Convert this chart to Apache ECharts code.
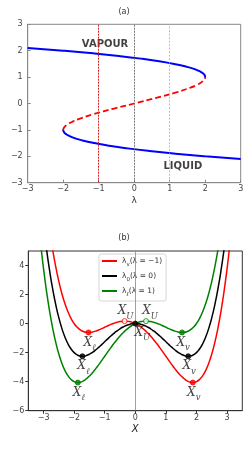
<!DOCTYPE html>
<html><head><meta charset="utf-8">
<script src="https://cdn.jsdelivr.net/npm/echarts@6/dist/echarts.min.js"></script>
<style>html,body{margin:0;padding:0;background:#fff}#c{width:248px;height:449px}</style>
</head><body><div id="c"></div>
<script>
// ---------- Panel (a): fixed points X* vs lambda ----------
const upperX   = [1.0, 1.02, 1.05, 1.1, 1.15, 1.2, 1.3, 1.4, 1.5, 1.6, 1.7, 1.8, 1.9, 2.0, 2.104];
const upperLam = [2.0, 1.999, 1.992, 1.969, 1.929, 1.872, 1.703, 1.456, 1.125, 0.704, 0.187, -0.432, -1.159, -2.0, -3.0];
const lowerX   = [-1.0, -1.02, -1.05, -1.1, -1.15, -1.2, -1.3, -1.4, -1.5, -1.6, -1.7, -1.8, -1.9, -2.0, -2.104];
const lowerLam = [-2.0, -1.999, -1.992, -1.969, -1.929, -1.872, -1.703, -1.456, -1.125, -0.704, -0.187, 0.432, 1.159, 2.0, 3.0];
const midX     = [-1.0, -0.95, -0.9, -0.8, -0.7, -0.6, -0.4, -0.2, 0, 0.2, 0.4, 0.6, 0.7, 0.8, 0.9, 0.95, 1.0];
const midLam   = [-2.0, -1.993, -1.971, -1.888, -1.757, -1.584, -1.136, -0.592, 0, 0.592, 1.136, 1.584, 1.757, 1.888, 1.971, 1.993, 2.0];
const refLams  = [-1, 0, 1];
const phaseLabels = ['VAPOUR', 'LIQUID'];
const phaseLabelPos = [[-0.82, 2.25], [1.37, -2.39]];

// ---------- Panel (b): potentials V(X) ----------
const gridX = [-3.2,-3.1,-3.0,-2.9,-2.8,-2.7,-2.6,-2.5,-2.4,-2.3,-2.2,-2.1,-2.0,-1.9,-1.8,-1.7,-1.6,-1.5,-1.4,-1.3,-1.2,-1.1,-1.0,-0.9,-0.8,-0.7,-0.6,-0.5,-0.4,-0.3,-0.2,-0.1,0,0.1,0.2,0.3,0.4,0.5,0.6,0.7,0.8,0.9,1.0,1.1,1.2,1.3,1.4,1.5,1.6,1.7,1.8,1.9,2.0,2.1,2.2,2.3,2.4,2.5,2.6,2.7,2.8,2.9,3.0,3.1,3.2];
const vRed = [14.054,11.773,9.75,7.967,6.406,5.051,3.884,2.891,2.054,1.361,0.796,0.347,0,-0.257,-0.436,-0.547,-0.602,-0.609,-0.580,-0.521,-0.442,-0.349,-0.25,-0.151,-0.058,0.025,0.092,0.141,0.166,0.167,0.140,0.085,0,-0.115,-0.260,-0.433,-0.634,-0.859,-1.108,-1.375,-1.658,-1.951,-2.25,-2.549,-2.842,-3.121,-3.380,-3.609,-3.802,-3.947,-4.036,-4.057,-4,-3.853,-3.604,-3.239,-2.746,-2.109,-1.316,-0.349,0.806,2.167,3.75,5.573,7.654];
const vBlack = [10.854,8.673,6.75,5.067,3.606,2.351,1.284,0.391,-0.346,-0.939,-1.404,-1.753,-2.0,-2.157,-2.236,-2.247,-2.202,-2.109,-1.980,-1.821,-1.642,-1.449,-1.25,-1.051,-0.858,-0.675,-0.508,-0.359,-0.234,-0.133,-0.060,-0.015,0,-0.015,-0.060,-0.133,-0.234,-0.359,-0.508,-0.675,-0.858,-1.051,-1.25,-1.449,-1.642,-1.821,-1.980,-2.109,-2.202,-2.247,-2.236,-2.157,-2.0,-1.753,-1.404,-0.939,-0.346,0.391,1.284,2.351,3.606,5.067,6.75,8.673,10.854];
const vGreen = [7.654,5.573,3.75,2.167,0.806,-0.349,-1.316,-2.109,-2.746,-3.239,-3.604,-3.853,-4,-4.057,-4.036,-3.947,-3.802,-3.609,-3.380,-3.121,-2.842,-2.549,-2.25,-1.951,-1.658,-1.375,-1.108,-0.859,-0.634,-0.433,-0.260,-0.115,0,0.085,0.140,0.167,0.166,0.141,0.092,0.025,-0.058,-0.151,-0.25,-0.349,-0.442,-0.521,-0.580,-0.609,-0.602,-0.547,-0.436,-0.257,0,0.347,0.796,1.361,2.054,2.891,3.884,5.051,6.406,7.967,9.75,11.773,14.054];
const seriesNames = ['lv', 'l0', 'll'];
const legendText = {
  lv: '{a|λ}{s|v}{a|(λ = −1)}',
  l0: '{a|λ}{s|0}{a|(λ = 0)}',
  ll: '{a|λ}{s|ℓ}{a|(λ = 1)}'
};
// extrema [X, V, subscript, filled]
const redExt   = [[-1.53, -0.61, 'ℓ', true], [1.88, -4.06, 'v', true], [-0.35, 0.17, 'U', false]];
const blackExt = [[-1.73, -2.25, 'ℓ', true], [1.73, -2.25, 'v', true], [0, 0, 'U', true]];
const greenExt = [[-1.88, -4.06, 'ℓ', true], [1.53, -0.61, 'v', true], [0.35, 0.17, 'U', false]];

const zip = (a, b) => a.map((v, i) => [v, b[i]]);
const sans = 'DejaVu Sans';
const tickLbl = {fontFamily: sans, fontSize: 8, color: '#444'};

const labelRich = {
  m: {fontFamily: 'DejaVu Serif', fontStyle: 'italic', fontSize: 12, color: '#111'},
  s: {fontFamily: 'DejaVu Serif', fontStyle: 'italic', fontSize: 8.5, color: '#111', verticalAlign: 'bottom', padding: [0, 0, -4, 0]}
};
function extSeries(ext, color) {
  return {
    type: 'scatter', xAxisIndex: 1, yAxisIndex: 1, z: 5,
    data: ext.map(e => {
      let position = e[2] === 'U' ? 'top' : 'bottom';
      let offset = [1, 0];
      if (e[2] === 'U' && e[0] > 0.1) offset = [4, 0];
      if (e[2] === 'U' && e[0] === 0) { position = 'bottom'; offset = [7, -1]; }
      return {
        value: [e[0], e[1]],
        symbolSize: 5,
        itemStyle: {color: e[3] ? color : '#fff', borderColor: color, borderWidth: 1},
        label: {show: true, position, offset, distance: 1, formatter: '{m|X}{s|' + e[2] + '}', rich: labelRich}
      };
    })
  };
}

const option = {
  animation: false,
  backgroundColor: '#fff',
  title: [
    {text: '(a)', left: 'center', top: 3, textStyle: {fontFamily: sans, fontSize: 8, fontWeight: 'normal', color: '#333'}},
    {text: '(b)', left: 'center', top: 229, textStyle: {fontFamily: sans, fontSize: 8, fontWeight: 'normal', color: '#333'}}
  ],
  grid: [
    {left: 27.7, top: 24.3, width: 213, height: 158.4, outerBoundsMode: 'none', containLabel: false, show: true, borderColor: '#888', borderWidth: 1, backgroundColor: 'transparent'},
    {left: 28.3, top: 251, width: 214, height: 159.7, outerBoundsMode: 'none', containLabel: false, show: true, borderColor: '#333', borderWidth: 1, backgroundColor: 'transparent'}
  ],
  xAxis: [
    {type: 'value', gridIndex: 0, min: -3, max: 3, interval: 1,
     name: 'λ', nameLocation: 'middle', nameGap: 13, nameTextStyle: {fontFamily: sans, fontSize: 9, color: '#333'},
     axisLine: {show: true, onZero: false, lineStyle: {color: '#888'}}, axisTick: {show: true, inside: true, length: 3, lineStyle: {color: '#888'}},
     axisLabel: Object.assign({margin: 2, formatter: v => String(v).replace('-', '−')}, tickLbl), splitLine: {show: false}},
    {type: 'value', gridIndex: 1, min: -3.5, max: 3.5, splitNumber: 7,
     name: 'X', nameLocation: 'middle', nameGap: 14, nameTextStyle: {fontFamily: sans, fontStyle: 'italic', fontSize: 10, color: '#222'},
     axisLine: {show: true, onZero: false, lineStyle: {color: '#333'}}, axisTick: {show: true, inside: false, length: 3, lineStyle: {color: '#333'}},
     axisLabel: Object.assign({margin: 3, showMinLabel: false, showMaxLabel: false, formatter: v => Number.isInteger(v) ? String(v).replace('-', '−') : ''}, tickLbl), splitLine: {show: false}}
  ],
  yAxis: [
    {type: 'value', gridIndex: 0, min: -3, max: 3, interval: 1,
     name: 'X*', nameLocation: 'middle', nameGap: 15, nameRotate: 90, nameTextStyle: {fontFamily: sans, fontSize: 9, color: '#333'},
     axisLine: {show: true, onZero: false, lineStyle: {color: '#888'}}, axisTick: {show: true, inside: true, length: 3, lineStyle: {color: '#888'}},
     axisLabel: Object.assign({margin: 5, formatter: v => String(v).replace('-', '−')}, tickLbl), splitLine: {show: false}},
    {type: 'value', gridIndex: 1, min: -6, max: 5, interval: 2,
     name: 'V(X)', nameLocation: 'middle', nameGap: 18, nameRotate: 90, nameTextStyle: {fontFamily: sans, fontStyle: 'italic', fontSize: 9, color: '#222'},
     axisLine: {show: true, onZero: false, lineStyle: {color: '#333'}}, axisTick: {show: true, inside: false, length: 3, lineStyle: {color: '#333'}},
     axisLabel: Object.assign({margin: 4, showMaxLabel: false, formatter: v => v === 5 ? '' : String(v).replace('-', '−')}, tickLbl), splitLine: {show: false}}
  ],
  legend: {
    data: seriesNames, orient: 'vertical', left: 99, top: 254, padding: [3, 4, 3, 3],
    backgroundColor: '#fff', borderColor: '#ccc', borderWidth: 0.8, borderRadius: 2,
    itemWidth: 15, itemHeight: 2, itemGap: 4, icon: 'rect',
    formatter: n => legendText[n],
    textStyle: {rich: {a: {fontFamily: sans, fontSize: 7.5, color: '#333'}, s: {fontFamily: sans, fontSize: 5.5, color: '#333', verticalAlign: 'bottom', padding: [0, 0, -3, 0]}}}
  },
  series: [
    {type: 'line', xAxisIndex: 0, yAxisIndex: 0, data: zip(upperLam, upperX), smooth: true, symbol: 'none', lineStyle: {color: '#0000ff', width: 2}, z: 3,
     markLine: {silent: true, symbol: 'none', label: {show: false},
       data: [
         {xAxis: refLams[0], lineStyle: {color: '#d42020', width: 1, type: [2, 1]}},
         {xAxis: refLams[1], lineStyle: {color: '#777', width: 1, type: [2, 1]}},
         {xAxis: refLams[2], lineStyle: {color: '#8fbf7f', width: 0.8, type: [2, 1.5]}}
       ]}},
    {type: 'line', xAxisIndex: 0, yAxisIndex: 0, data: zip(lowerLam, lowerX), smooth: true, symbol: 'none', lineStyle: {color: '#0000ff', width: 2}, z: 3},
    {type: 'line', xAxisIndex: 0, yAxisIndex: 0, data: zip(midLam, midX), smooth: true, symbol: 'none', lineStyle: {color: '#ff0000', width: 1.8, type: [6, 3]}, z: 3},
    {type: 'scatter', xAxisIndex: 0, yAxisIndex: 0, symbolSize: 0, silent: true,
     data: phaseLabelPos.map((p, i) => ({value: p, label: {show: true, position: 'inside', formatter: phaseLabels[i], fontFamily: sans, fontWeight: 'bold', fontSize: 10, color: '#111'}}))},
    {name: seriesNames[0], type: 'line', xAxisIndex: 1, yAxisIndex: 1, data: zip(gridX, vRed), smooth: true, symbol: 'none', color: '#ff0000', lineStyle: {color: '#ff0000', width: 1.5}, z: 3},
    {name: seriesNames[1], type: 'line', xAxisIndex: 1, yAxisIndex: 1, data: zip(gridX, vBlack), smooth: true, symbol: 'none', color: '#000', lineStyle: {color: '#000', width: 1.5}, z: 3,
     markLine: {silent: true, symbol: 'none', label: {show: false}, data: [{xAxis: 0, lineStyle: {color: '#888', width: 0.8, type: 'solid'}}]}},
    {name: seriesNames[2], type: 'line', xAxisIndex: 1, yAxisIndex: 1, data: zip(gridX, vGreen), smooth: true, symbol: 'none', color: '#008000', lineStyle: {color: '#008000', width: 1.5}, z: 3},
    extSeries(redExt, '#ff0000'),
    extSeries(blackExt, '#000'),
    extSeries(greenExt, '#008000')
  ]
};
const chart = echarts.init(document.getElementById('c'), null, {renderer: 'canvas'});
chart.setOption(option);
</script></body></html>
